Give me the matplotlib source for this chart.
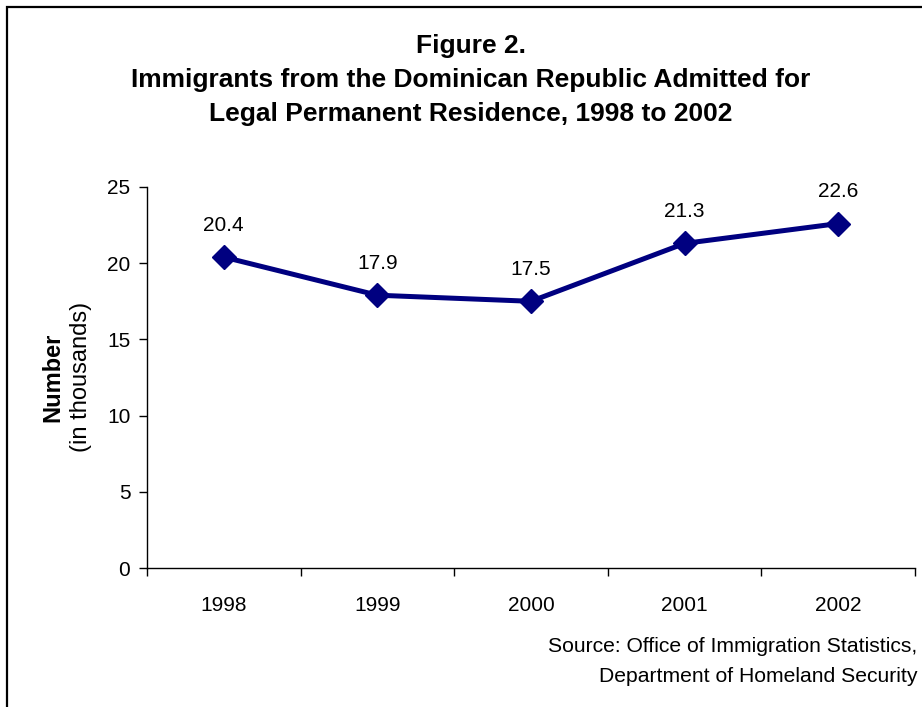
import matplotlib
matplotlib.use("Agg")
import matplotlib.pyplot as plt
from matplotlib.patches import Rectangle

plt.rcParams["font.family"] = ["Liberation Sans", "DejaVu Sans"]

years = ["1998", "1999", "2000", "2001", "2002"]
immigrants = [20.4, 17.9, 17.5, 21.3, 22.6]
y_ticks = [0, 5, 10, 15, 20, 25]

W, H = 922, 707
fig = plt.figure(figsize=(W / 100, H / 100), dpi=100)

# frame around the whole chart (open on right/bottom as in the source)
fig.patches.append(Rectangle((7 / W, -0.05), 1.2, (H - 7) / H + 0.05,
                             transform=fig.transFigure, fill=False,
                             edgecolor="black", linewidth=1.6))

ax = fig.add_axes([147 / W, (H - 568) / H, (915 - 147) / W, (568 - 187) / H])

x = list(range(len(years)))
ax.plot(x, immigrants, color="#000080", linewidth=3.6, marker="D",
        markersize=12, clip_on=False, zorder=3)
for xi, v in zip(x, immigrants):
    ax.annotate(f"{v:.1f}", (xi, v), xytext=(0, 23), textcoords="offset points",
                ha="center", va="center", fontsize=15)

ax.set_xlim(-0.5, len(years) - 0.5)
ax.set_ylim(0, 25)
ax.set_yticks(y_ticks)
ax.set_xticks(x)
ax.set_xticklabels(years)
ax.set_xticks([i - 0.5 for i in range(len(years) + 1)], minor=True)
ax.tick_params(axis="x", which="major", length=0, pad=20, labelsize=15)
ax.tick_params(axis="x", which="minor", length=6, direction="out", width=1)
ax.tick_params(axis="y", length=6, direction="out", width=1, labelsize=15, pad=6)
for s in ["top", "right"]:
    ax.spines[s].set_visible(False)
for s in ["left", "bottom"]:
    ax.spines[s].set_linewidth(1)

fig.text(53 / W, 1 - 377 / H, "Number", rotation=90, ha="center", va="center",
         fontsize=17, fontweight="bold")
fig.text(81 / W, 1 - 377 / H, "(in thousands)", rotation=90, ha="center",
         va="center", fontsize=17)

title_lines = ["Figure 2.",
               "Immigrants from the Dominican Republic Admitted for",
               "Legal Permanent Residence, 1998 to 2002"]
for i, line in enumerate(title_lines):
    fig.text(471 / W, 1 - (46 + 34 * i) / H, line, ha="center", va="center",
             fontsize=19, fontweight="bold")

fig.text(917 / W, 1 - 647 / H, "Source: Office of Immigration Statistics,",
         ha="right", va="center", fontsize=15.2)
fig.text(917 / W, 1 - 676 / H, "Department of Homeland Security",
         ha="right", va="center", fontsize=15.2)

fig.savefig("out.png", dpi=100)
